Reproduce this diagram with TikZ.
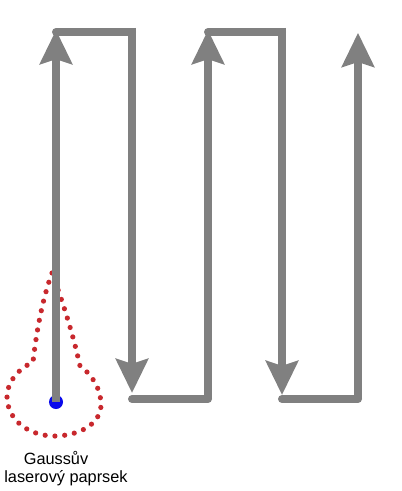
\documentclass[tikz,border=0pt]{standalone}
\usepackage{fontspec}
\setmainfont{Liberation Sans}
\usetikzlibrary{arrows.meta}

\definecolor{bahngrau}{RGB}{128,128,128}
\definecolor{punktrot}{RGB}{200,40,45}
\definecolor{strahlblau}{RGB}{10,10,235}

\tikzset{
	bahn/.style={bahngrau, line width=0.2cm},
	quer/.style={bahn, line cap=round},
	pfeil/.style={bahn, -{Stealth[length=0.85cm, width=0.8cm, inset=0.12cm]}},
	gaussrand/.style={punktrot, line width=0.13cm, line cap=round, dash pattern=on 0pt off 0.245cm}
}

\begin{document}
\begin{tikzpicture}[x=0.025cm, y=-0.025cm]

		\useasboundingbox (0,0) rectangle (401,491);

		%Eckpunkte oben
		\coordinate (O1) at (56,32);
		\coordinate (O2) at (132,32);
		\coordinate (O3) at (208,32);
		\coordinate (O4) at (282,32);
		\coordinate (O5) at (358,32);
		%Eckpunkte unten
		\coordinate (U2) at (132,399);
		\coordinate (U3) at (208,399);
		\coordinate (U4) at (282,399);
		\coordinate (U5) at (358,399);

		%Gaussscher Fleck
		\draw [gaussrand] (52,273) .. controls (42,300) and (36,335) .. (33,362)
			.. controls (12,372) and (4,390) .. (8,405)
			.. controls (14,428) and (38,437) .. (58,436)
			.. controls (86,434) and (102,420) .. (101,403)
			.. controls (100,386) and (90,373) .. (80,366)
			.. controls (72,330) and (62,300) .. (52,273);

		%Querverbindungen
		\draw [quer] (O1) -- (O2);
		\draw [quer] (U2) -- (U3);
		\draw [quer] (O3) -- (O4);
		\draw [quer] (U4) -- (U5);

		%Startpunkt
		\node [circle, fill=strahlblau, inner sep=0pt, minimum size=0.35cm] (spot) at (56,402) {};

		%Rasterbahnen
		\draw [pfeil] (spot.center) -- ([yshift=0.05cm]O1);
		\draw [pfeil] ([yshift=0.1cm]O2) -- ([yshift=0.15cm]U2);
		\draw [pfeil] (U3) -- ([yshift=0.05cm]O3);
		\draw [pfeil] ([yshift=0.1cm]O4) -- ([yshift=0.1cm]U4);
		\draw [pfeil] (U5) -- ([yshift=-0.02cm]O5);

		%Beschriftung
		\node [align=center, font=\fontsize{11.6}{13.2}\selectfont, anchor=north] (beschriftung) at (66,446) {\hspace*{-0.5cm}Gaussův\\laserový paprsek};

\end{tikzpicture}
\end{document}
